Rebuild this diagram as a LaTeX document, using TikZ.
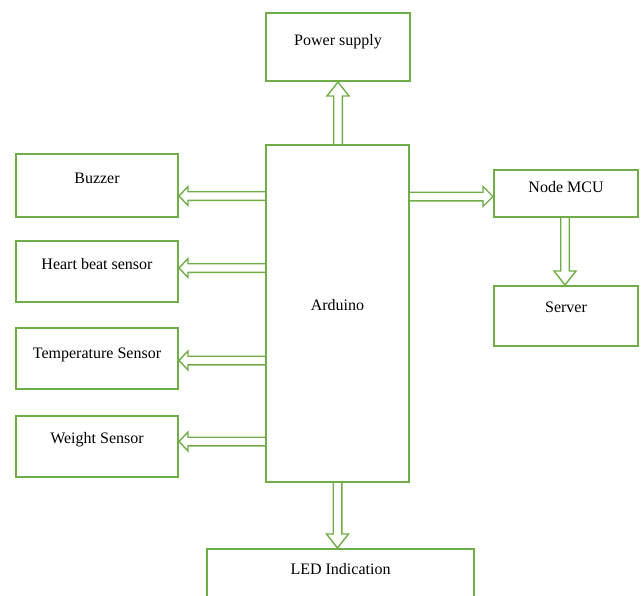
\documentclass[tikz,border=0pt]{standalone}
\usepackage{fontspec}
\setmainfont{Liberation Serif}
\usetikzlibrary{calc}
\definecolor{grn}{HTML}{70AD47}
\newcommand\sw{4.3pt}
\newcommand\barrow[4]{%
  \path ($(#2)!#3!(#1)$) coordinate (hb);
  \draw[barr] ($(#1)!\sw!90:(#2)$) -- ($(hb)!\sw!-90:(#1)$) -- ($(hb)!#4!-90:(#1)$) -- (#2) -- ($(hb)!#4!90:(#1)$) -- ($(hb)!\sw!90:(#1)$) -- ($(#1)!\sw!-90:(#2)$);}
\tikzset{
  box/.style={draw=grn, line width=2pt, inner sep=0pt},
  lab/.style={font=\fontsize{16}{19}\selectfont, text height=11pt, text depth=3pt, inner sep=0pt},
  barr/.style={draw=grn, line width=1.4pt, line join=miter}
}
\begin{document}
\begin{tikzpicture}[x=1pt,y=-1pt]
\useasboundingbox (0,0) rectangle (643,595);
\node[box, minimum width=144pt, minimum height=68pt, label={[lab,yshift=6pt]center:Power supply}] (ps) at (338,47) {};
\node[box, minimum width=143pt, minimum height=337pt, label={[lab,yshift=7pt]center:Arduino}] (ard) at (337.5,313.5) {};
\node[box, minimum width=162pt, minimum height=63pt, label={[lab,yshift=6pt]center:Buzzer}] (buz) at (97,185.5) {};
\node[box, minimum width=162pt, minimum height=61pt, label={[lab,yshift=6pt]center:Heart beat sensor}] (hbs) at (97,271.5) {};
\node[box, minimum width=162pt, minimum height=61pt, label={[lab,yshift=4pt]center:Temperature Sensor}] (tmp) at (97,358.5) {};
\node[box, minimum width=162pt, minimum height=61pt, label={[lab,yshift=7pt]center:Weight Sensor}] (wgt) at (97,446.5) {};
\node[box, minimum width=144pt, minimum height=47pt, label={[lab,yshift=5pt]center:Node MCU}] (mcu) at (566,193.5) {};
\node[box, minimum width=144pt, minimum height=60pt, label={[lab,yshift=7.5pt]center:Server}] (srv) at (566,316) {};
\node[box, minimum width=267pt, minimum height=52pt, label={[lab,yshift=5pt]center:LED Indication}] (led) at (340.5,575) {};
% connectors
\coordinate (t1) at ($(buz.east)+(0,10.5)$);
\coordinate (s1) at (ard.west |- t1);
\barrow{s1}{t1}{9pt}{9.5pt}
\coordinate (t2) at ($(hbs.east)+(0,-3.5)$);
\coordinate (s2) at (ard.west |- t2);
\barrow{s2}{t2}{9pt}{9.5pt}
\coordinate (t3) at ($(tmp.east)+(0,2)$);
\coordinate (s3) at (ard.west |- t3);
\barrow{s3}{t3}{9pt}{9.5pt}
\coordinate (t4) at ($(wgt.east)+(0,-5)$);
\coordinate (s4) at (ard.west |- t4);
\barrow{s4}{t4}{9pt}{9.5pt}
\coordinate (t5) at ($(mcu.west)+(0,3)$);
\coordinate (s5) at (ard.east |- t5);
\barrow{s5}{t5}{10pt}{10pt}
\coordinate (t6) at (ps.south);
\coordinate (s6) at (ps.south |- ard.north);
\barrow{s6}{t6}{14pt}{11pt}
\coordinate (t7) at ($(srv.north)+(-1,0)$);
\coordinate (s7) at (t7 |- mcu.south);
\barrow{s7}{t7}{14pt}{11pt}
\coordinate (t8) at (ard.south |- led.north);
\coordinate (s8) at (ard.south);
\barrow{s8}{t8}{14pt}{11pt}
\end{tikzpicture}
\end{document}
